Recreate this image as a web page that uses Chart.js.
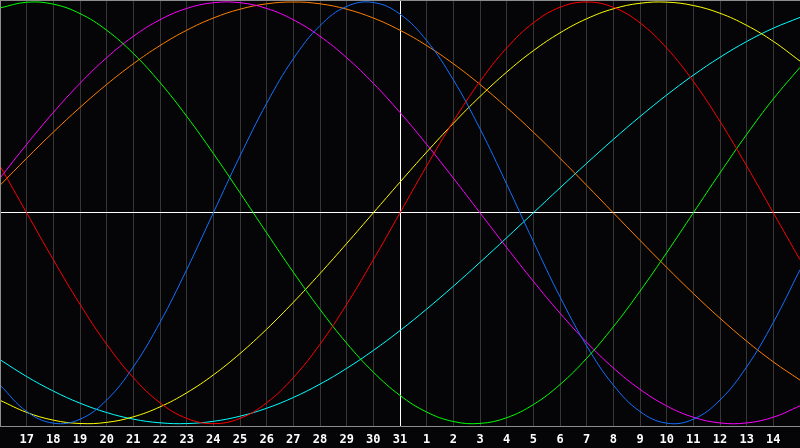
<!DOCTYPE html>
<html>
<head>
<meta charset="utf-8">
<script src="https://cdn.jsdelivr.net/npm/chart.js@4.4.1/dist/chart.umd.min.js"></script>
<style>
html, body { margin: 0; padding: 0; background: #050508; }
#wrap { width: 800px; height: 448px; }
</style>
</head>
<body>
<div id="wrap"><canvas id="bio"></canvas></div>
<script>
// Days shown on the axis (first and last sit on the frame edges, unlabelled)
const days = ['16', '17', '18', '19', '20', '21', '22', '23', '24', '25', '26', '27', '28', '29', '30', '31',
    '1', '2', '3', '4', '5', '6', '7', '8', '9', '10', '11', '12', '13', '14', '15'];

// Curve values per day (-1 .. 1)
const red = [0.2225, 0, -0.2225, -0.4339, -0.6235, -0.7818, -0.9010, -0.9749, -1, -0.9749, -0.9010, -0.7818, -0.6235, -0.4339, -0.2225,
    0, 0.2225, 0.4339, 0.6235, 0.7818, 0.9010, 0.9749, 1, 0.9749, 0.9010, 0.7818, 0.6235, 0.4339, 0.2225, 0, -0.2225];
const green = [0.9718, 0.9989, 0.9898, 0.9450, 0.8660, 0.7557, 0.6182, 0.4582, 0.2817, 0.0951, -0.0951, -0.2817, -0.4582, -0.6182, -0.7557,
    -0.8660, -0.9450, -0.9898, -0.9989, -0.9718, -0.9096, -0.8146, -0.6900, -0.5406, -0.3717, -0.1893, 0, 0.1893, 0.3717, 0.5406, 0.6900];
const blue = [-0.8170, -0.9423, -0.9977, -0.9791, -0.8879, -0.7308, -0.5196, -0.2698, 0, 0.2698, 0.5196, 0.7308, 0.8879, 0.9791, 0.9977,
    0.9423, 0.8170, 0.6311, 0.3984, 0.1362, -0.1362, -0.3984, -0.6311, -0.8170, -0.9423, -0.9977, -0.9791, -0.8879, -0.7308, -0.5196, -0.2698];
const yellow = [-0.8892, -0.9466, -0.9834, -0.9993, -0.9940, -0.9676, -0.9205, -0.8537, -0.7689, -0.6675, -0.5518, -0.4244, -0.2881, -0.1456, 0,
    0.1456, 0.2881, 0.4244, 0.5518, 0.6675, 0.7689, 0.8537, 0.9205, 0.9676, 0.9940, 0.9993, 0.9834, 0.9466, 0.8892, 0.8133, 0.7197];
const magenta = [0.1646, 0.3247, 0.4759, 0.6142, 0.7357, 0.8372, 0.9158, 0.9694, 0.9966, 0.9966, 0.9694, 0.9158, 0.8372, 0.7357, 0.6142,
    0.4759, 0.3247, 0.1646, 0, -0.1646, -0.3247, -0.4759, -0.6142, -0.7357, -0.8372, -0.9158, -0.9694, -0.9966, -0.9966, -0.9694, -0.9158];
const orange = [0.1305, 0.2588, 0.3827, 0.5, 0.6088, 0.7071, 0.7934, 0.8660, 0.9239, 0.9659, 0.9914, 1, 0.9914, 0.9659, 0.9239,
    0.8660, 0.7934, 0.7071, 0.6088, 0.5, 0.3827, 0.2588, 0.1305, 0, -0.1305, -0.2588, -0.3827, -0.5, -0.6088, -0.7071, -0.7934];
const cyan = [-0.6965, -0.7766, -0.8456, -0.9028, -0.9473, -0.9786, -0.9960, -0.9996, -0.9890, -0.9646, -0.9269, -0.8759, -0.8126, -0.7378, -0.6528,
    -0.5586, -0.4566, -0.3482, -0.2349, -0.1183, 0, 0.1183, 0.2349, 0.3482, 0.4566, 0.5586, 0.6528, 0.7378, 0.8126, 0.8759, 0.9269];

const GRID = '#363636';
const FRAME = '#8c8c8c';

function line(data, color) {
    return {
        data: data,
        borderColor: color,
        borderWidth: 1,
        pointRadius: 0,
        tension: 0.4,
        fill: false
    };
}

// black background + top/left frame line
const backdrop = {
    id: 'backdrop',
    beforeDraw(chart) {
        const c = chart.ctx;
        c.save();
        c.fillStyle = '#050508';
        c.fillRect(0, 0, chart.width, chart.height);
        c.restore();
    },
    afterDraw(chart) {
        const a = chart.chartArea;
        const c = chart.ctx;
        c.save();
        c.strokeStyle = FRAME;
        c.lineWidth = 1;
        c.beginPath();
        c.moveTo(a.left, a.top + 0.5);
        c.lineTo(a.right, a.top + 0.5);
        c.moveTo(a.left + 0.5, a.top);
        c.lineTo(a.left + 0.5, a.bottom);
        c.stroke();
        c.restore();
    }
};

new Chart(document.getElementById('bio').getContext('2d'), {
    type: 'line',
    data: {
        labels: days,
        datasets: [
            line(red, '#ff0000'),
            line(green, '#00ff00'),
            line(blue, '#1470ff'),
            line(yellow, '#ffff00'),
            line(magenta, '#ff00ff'),
            line(orange, '#ff8000'),
            line(cyan, '#00ffff')
        ]
    },
    options: {
        responsive: true,
        maintainAspectRatio: false,
        animation: false,
        layout: { padding: { left: 0, right: 0, top: 0, bottom: -5 } },
        plugins: {
            legend: { display: false },
            tooltip: { enabled: false }
        },
        scales: {
            x: {
                type: 'category',
                offset: false,
                // frame runs edge to edge, no side padding for labels
                afterFit: scale => {
                    scale.paddingLeft = 0;
                    scale.paddingRight = 0;
                },
                grid: {
                    color: ctx => ctx.index === 15 ? '#ffffff' : GRID,
                    drawTicks: false
                },
                border: { color: FRAME },
                ticks: {
                    color: '#ffffff',
                    font: { family: 'DejaVu Sans Mono', size: 12, weight: 'bold' },
                    padding: 6,
                    autoSkip: false,
                    maxRotation: 0,
                    callback: (v, i) => (i === 0 || i === days.length - 1) ? '' : days[i]
                }
            },
            y: {
                min: -1.014,
                max: 1.0095,
                ticks: { display: false, stepSize: 1 },
                grid: {
                    color: ctx => ctx.tick.value === 0 ? '#ffffff' : 'transparent',
                    drawTicks: false
                },
                border: { display: false }
            }
        }
    },
    plugins: [backdrop]
});
</script>
</body>
</html>
